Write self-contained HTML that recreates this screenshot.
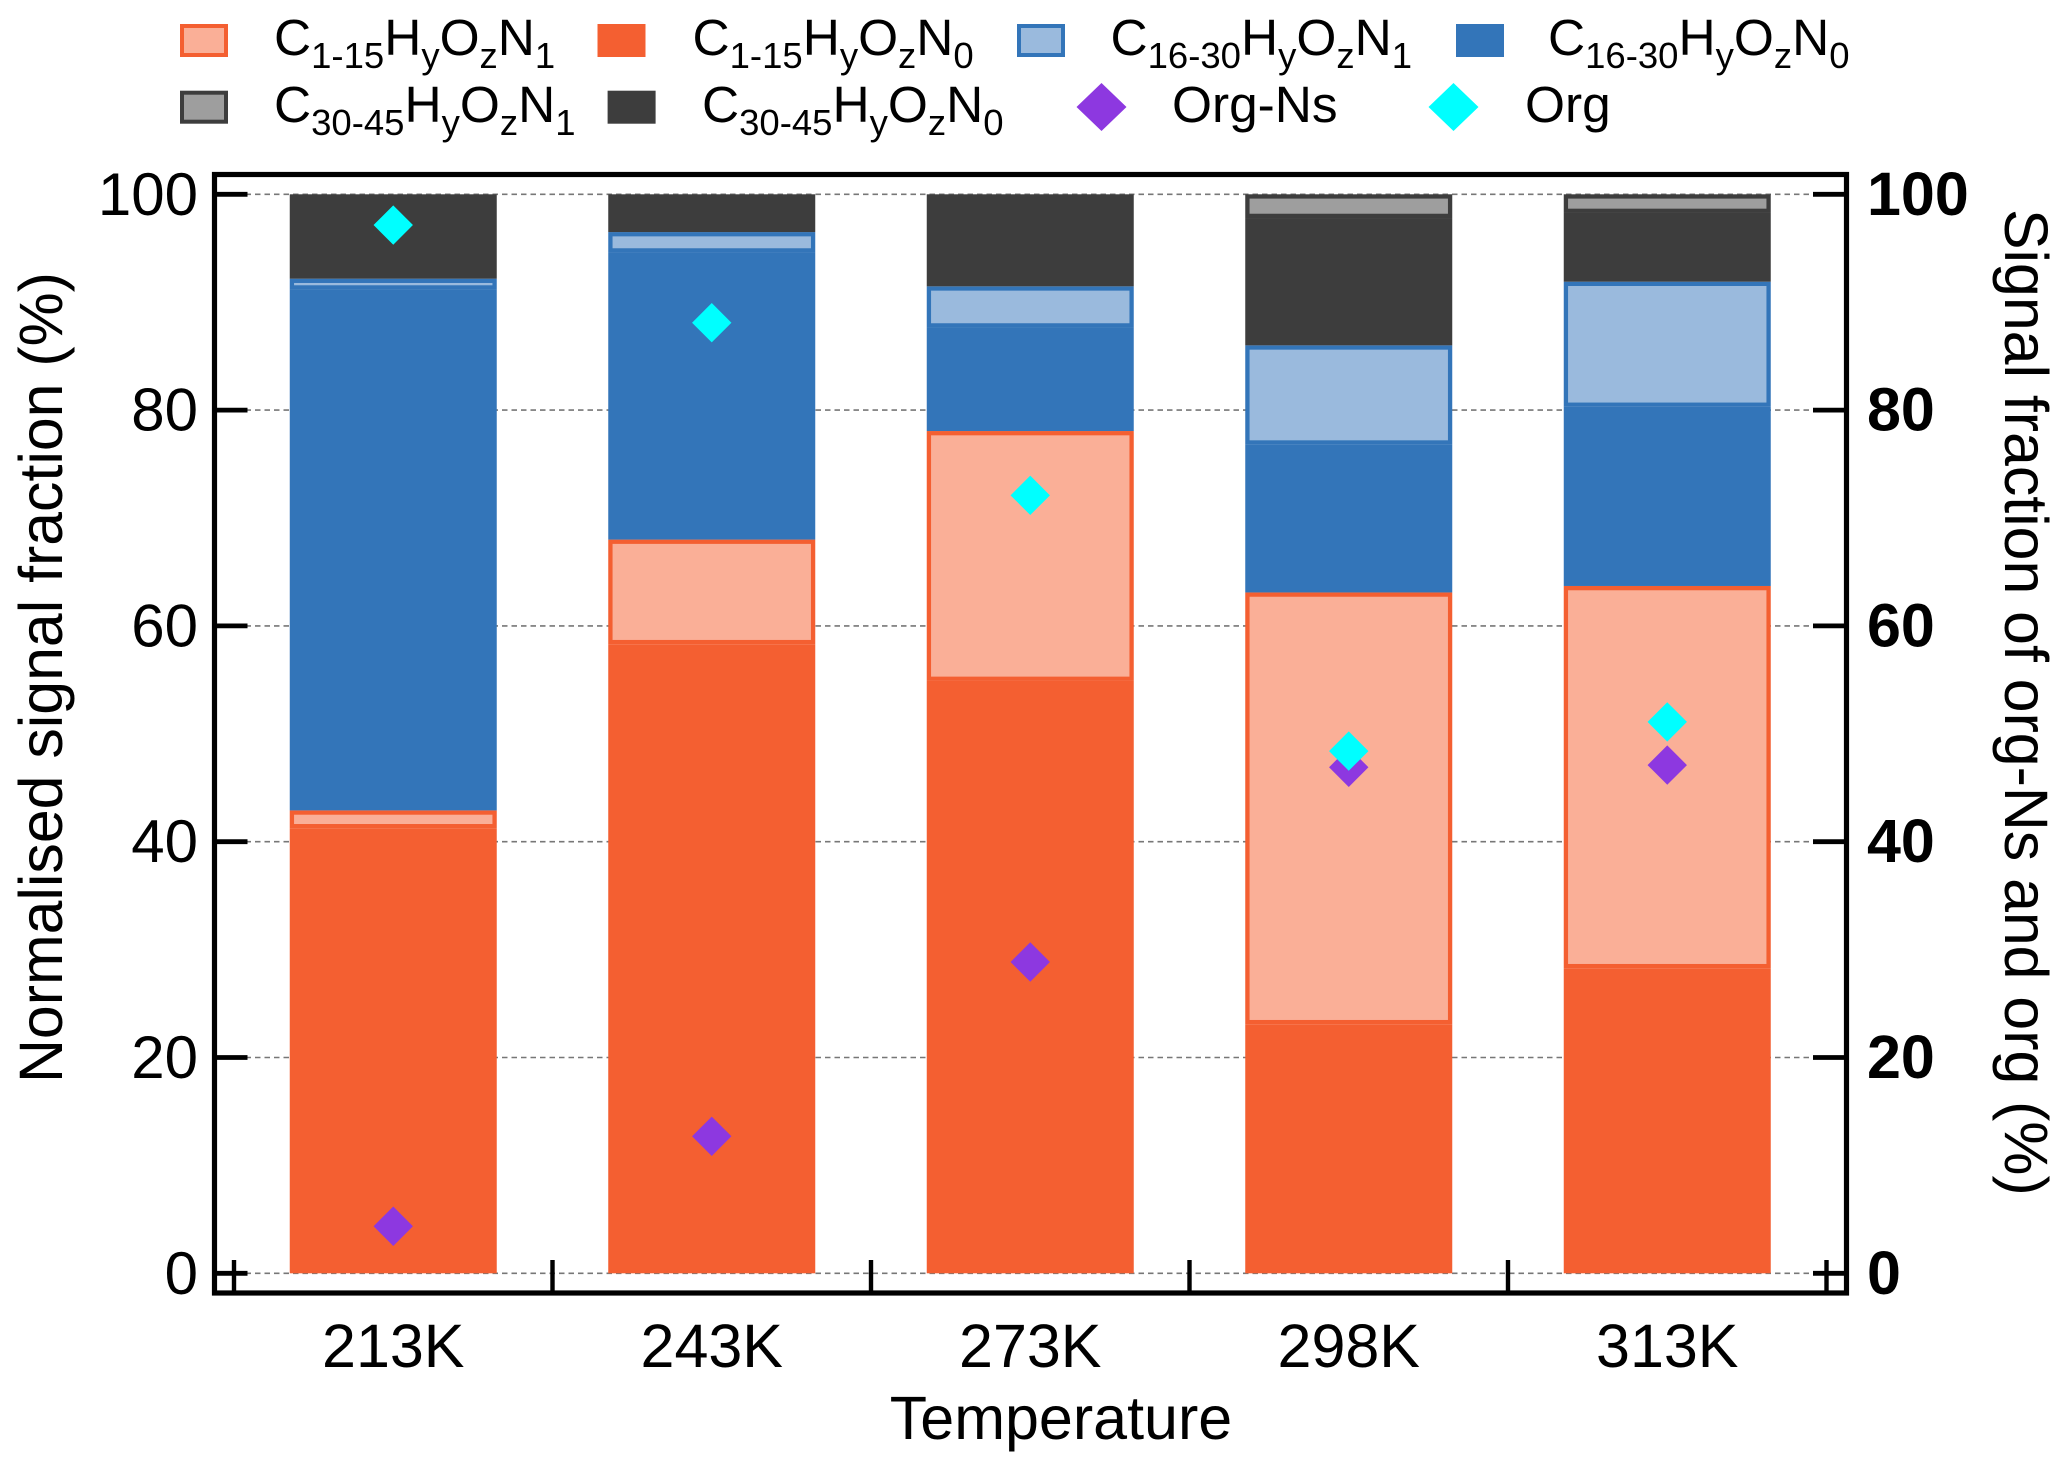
<!DOCTYPE html>
<html lang="en">
<head>
<meta charset="utf-8">
<title>Signal fraction by temperature</title>
<style>
html,body{margin:0;padding:0;background:#fff;}
svg{display:block;}
text{font-family:"Liberation Sans",Arial,sans-serif;fill:#000;}
</style>
</head>
<body>
<svg id="chart" xmlns="http://www.w3.org/2000/svg" width="2067" height="1468" viewBox="0 0 2067 1468">
  <rect x="0" y="0" width="2067" height="1468" fill="#ffffff"/>
  <g id="grid"></g>
  <g id="bars"></g>
  <g id="markers"></g>
  <g id="ticks"></g>
  <rect x="214.5" y="174.5" width="1632" height="1118.5" fill="none" stroke="#000" stroke-width="5.2"/>
  <g id="labels"></g>

  <text transform="translate(62,1083) rotate(-90)" font-size="60.8">Normalised signal fraction (%)</text>
  <text transform="translate(2005,209) rotate(90)" font-size="60.8">Signal fraction of org-Ns and org (%)</text>
  <text x="1061" y="1439" text-anchor="middle" font-size="61">Temperature</text>

  <g font-size="51.4">
    <g>
      <rect x="182" y="26" width="44" height="29" fill="#FAAF97" stroke="#F45F31" stroke-width="4"/>
      <text x="274" y="55">C<tspan font-size="36.5" dy="13">1-15</tspan><tspan dy="-13">H</tspan><tspan font-size="36.5" dy="13">y</tspan><tspan dy="-13">O</tspan><tspan font-size="36.5" dy="13">z</tspan><tspan dy="-13">N</tspan><tspan font-size="36.5" dy="13">1</tspan></text>
    </g>
    <g>
      <rect x="597.5" y="24" width="48" height="33" fill="#F45F31"/>
      <text x="692.5" y="55">C<tspan font-size="36.5" dy="13">1-15</tspan><tspan dy="-13">H</tspan><tspan font-size="36.5" dy="13">y</tspan><tspan dy="-13">O</tspan><tspan font-size="36.5" dy="13">z</tspan><tspan dy="-13">N</tspan><tspan font-size="36.5" dy="13">0</tspan></text>
    </g>
    <g>
      <rect x="1019" y="26" width="44" height="29" fill="#9ABADD" stroke="#3375B9" stroke-width="4"/>
      <text x="1110.5" y="55">C<tspan font-size="36.5" dy="13">16-30</tspan><tspan dy="-13">H</tspan><tspan font-size="36.5" dy="13">y</tspan><tspan dy="-13">O</tspan><tspan font-size="36.5" dy="13">z</tspan><tspan dy="-13">N</tspan><tspan font-size="36.5" dy="13">1</tspan></text>
    </g>
    <g>
      <rect x="1456" y="24" width="48" height="33" fill="#3375B9"/>
      <text x="1548" y="55">C<tspan font-size="36.5" dy="13">16-30</tspan><tspan dy="-13">H</tspan><tspan font-size="36.5" dy="13">y</tspan><tspan dy="-13">O</tspan><tspan font-size="36.5" dy="13">z</tspan><tspan dy="-13">N</tspan><tspan font-size="36.5" dy="13">0</tspan></text>
    </g>
    <g>
      <rect x="182" y="92.7" width="44" height="29" fill="#9E9E9E" stroke="#3D3D3D" stroke-width="4"/>
      <text x="274" y="122">C<tspan font-size="36.5" dy="13">30-45</tspan><tspan dy="-13">H</tspan><tspan font-size="36.5" dy="13">y</tspan><tspan dy="-13">O</tspan><tspan font-size="36.5" dy="13">z</tspan><tspan dy="-13">N</tspan><tspan font-size="36.5" dy="13">1</tspan></text>
    </g>
    <g>
      <rect x="607.6" y="90.7" width="48" height="33" fill="#3D3D3D"/>
      <text x="702" y="122">C<tspan font-size="36.5" dy="13">30-45</tspan><tspan dy="-13">H</tspan><tspan font-size="36.5" dy="13">y</tspan><tspan dy="-13">O</tspan><tspan font-size="36.5" dy="13">z</tspan><tspan dy="-13">N</tspan><tspan font-size="36.5" dy="13">0</tspan></text>
    </g>
    <g>
      <polygon points="1101.5,83 1126.5,107 1101.5,131 1076.5,107" fill="#8D38E0"/>
      <text x="1172" y="122">Org-Ns</text>
    </g>
    <g>
      <polygon points="1453.5,83 1478.5,107 1453.5,131 1428.5,107" fill="#00FFFF"/>
      <text x="1525" y="122">Org</text>
    </g>
  </g>
</svg>

<script>
const categories = ["213K", "243K", "273K", "298K", "313K"];
const yTickValues = [0, 20, 40, 60, 80, 100];

const c1_15_N0 = [41.24, 58.3, 54.9, 23.08, 28.27];
const c1_15_N1 = [1.66, 9.7, 23.16, 40.02, 35.43];
const c16_30_N0 = [48.27, 26.6, 9.59, 13.7, 16.6];
const c16_30_N1 = [1.01, 1.9, 3.82, 9.2, 11.6];
const c30_45_N0 = [7.82, 3.5, 8.53, 11.8, 6.37];
const c30_45_N1 = [0, 0, 0, 2.2, 1.73];

const orgNs = [4.36, 12.7, 28.85, 46.9, 47.1];
const org = [97.15, 88.1, 72.1, 48.4, 51.1];

const NS = "http://www.w3.org/2000/svg";
const X_START = 234, X_STEP = 318.5, BAR_W = 207;
const Y_ZERO = 1273.3, Y_UNIT = 10.79;
const INSET = 4.3;

function bandEdge(i) { return X_START + i * X_STEP; }
function xCenter(i) { return bandEdge(i) + X_STEP / 2; }
function yScale(v) { return Y_ZERO - v * Y_UNIT; }

function make(tag, attrs, parent) {
  const el = document.createElementNS(NS, tag);
  for (const k in attrs) el.setAttribute(k, attrs[k]);
  parent.appendChild(el);
  return el;
}

const gGrid = document.getElementById("grid");
const gBars = document.getElementById("bars");
const gMarkers = document.getElementById("markers");
const gTicks = document.getElementById("ticks");
const gLabels = document.getElementById("labels");

yTickValues.forEach(function (v) {
  const y = yScale(v);
  const line = make("line", { x1: 217, x2: 1844, y1: y, y2: y, stroke: "#777", "stroke-width": 1.6, "stroke-dasharray": "5.5 4" }, gGrid);
  
  

  const left = make("line", { x1: 214, x2: 247.5, y1: y, y2: y, stroke: "#000", "stroke-width": 4.8 }, gTicks);
  
  

  const right = make("line", { x1: 1813, x2: 1846, y1: y, y2: y, stroke: "#000", "stroke-width": 4.8 }, gTicks);
  
  

  const lt = make("text", { x: 198, y: y + 20.5, "text-anchor": "end", "font-size": 60 }, gLabels);
  lt.textContent = String(v);
  
  

  const rt = make("text", { x: 1867, y: y + 20.5, "font-size": 61, "font-weight": "bold" }, gLabels);
  rt.textContent = String(v);
  
  
});

for (let i = 0; i <= categories.length; i++) {
  const x = bandEdge(i);
  const tick = make("line", { x1: x, x2: x, y1: 1260, y2: 1293, stroke: "#000", "stroke-width": 4.4 }, gTicks);
  
  
}

const stackSeries = [
  { key: "c1-15-n0", values: c1_15_N0, edge: "#F45F31", fill: null },
  { key: "c1-15-n1", values: c1_15_N1, edge: "#F45F31", fill: "#FAAF97" },
  { key: "c16-30-n0", values: c16_30_N0, edge: "#3375B9", fill: null },
  { key: "c16-30-n1", values: c16_30_N1, edge: "#3375B9", fill: "#9ABADD" },
  { key: "c30-45-n0", values: c30_45_N0, edge: "#3D3D3D", fill: null },
  { key: "c30-45-n1", values: c30_45_N1, edge: "#3D3D3D", fill: "#9E9E9E" }
];

categories.forEach(function (cat, i) {
  const x = xCenter(i) - BAR_W / 2;
  let base = 0;
  stackSeries.forEach(function (s) {
    const v = s.values[i];
    if (v <= 0) return;
    const yTop = yScale(base + v);
    const yBot = yScale(base);
    const seg = make("rect", { x: x, y: yTop, width: BAR_W, height: yBot - yTop, fill: s.edge }, gBars);
    
    
    if (s.fill) {
      const inner = make("rect", {
        x: x + INSET,
        y: yTop + INSET,
        width: BAR_W - 2 * INSET,
        height: Math.max(yBot - yTop - 2 * INSET, 0),
        fill: s.fill
      }, gBars);
      
      
    }
    base += v;
  });

  const label = make("text", { x: xCenter(i), y: 1367, "text-anchor": "middle", "font-size": 61 }, gLabels);
  label.textContent = cat;
  
  
});

function drawDiamond(i, v, color, name) {
  const cx = xCenter(i), cy = yScale(v), r = 19.7;
  const pts = [cx, cy - r, cx + r, cy, cx, cy + r, cx - r, cy].join(" ");
  const d = make("polygon", { points: pts, fill: color }, gMarkers);
  
  
}
orgNs.forEach(function (v, i) { drawDiamond(i, v, "#8D38E0", "org-ns-marker"); });
org.forEach(function (v, i) { drawDiamond(i, v, "#00FFFF", "org-marker"); });
</script>
</body>
</html>
